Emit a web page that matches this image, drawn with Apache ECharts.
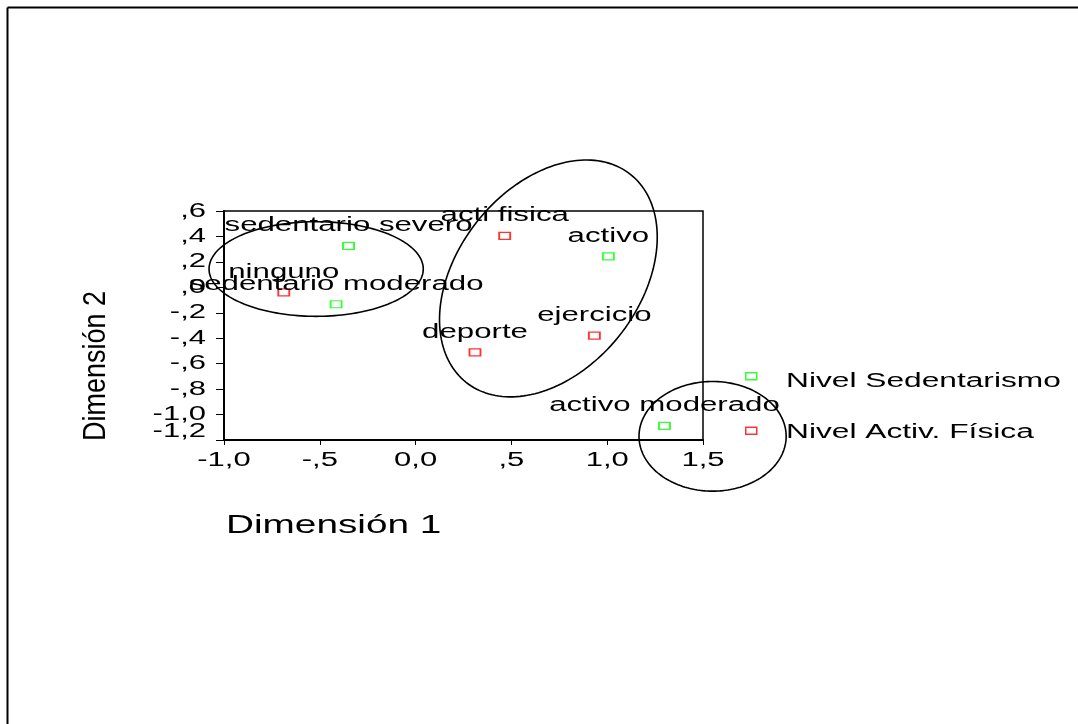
<!DOCTYPE html>
<html>
<head>
<meta charset="utf-8">
<script src="https://cdn.jsdelivr.net/npm/echarts@6/dist/echarts.min.js"></script>
<style>
html,body{margin:0;padding:0;background:#fff;}
#chart{width:1078px;height:724px;}
</style>
</head>
<body>
<div id="chart"></div>
<script>
// ---- data ----
const sedNames = ['sedentario severo', 'sedentario moderado', 'activo', 'activo moderado'];
const sedX = [-0.35, -0.415, 1.006, 1.299];
const sedY = [0.326, -0.133, 0.244, -1.089];

const actNames = ['ninguno', 'acti fisica', 'deporte', 'ejercicio'];
const actX = [-0.688, 0.465, 0.31, 0.933];
const actY = [-0.04, 0.405, -0.512, -0.38];

const seriesNames = ['Nivel Sedentarismo', 'Nivel Activ. Física'];

const xTickValues = [-1.0, -0.5, 0.0, 0.5, 1.0, 1.5];
const xTickLabels = ['-1,0', '-,5', '0,0', ',5', '1,0', '1,5'];
const yTickValues = [0.6, 0.4, 0.2, 0.0, -0.2, -0.4, -0.6, -0.8, -1.0, -1.2];
const yTickLabels = [',6', ',4', ',2', ',0', '-,2', '-,4', '-,6', '-,8', '-1,0', '-1,2'];

// ellipse annotations (data units): centre and two conjugate semi-diameters
const ellipseCx = [-0.519, 0.693, 1.55];
const ellipseCy = [0.144, 0.070, -1.171];
const ellipseUx = [0.559, 0.4295, 0.384];
const ellipseUy = [0.0, 0.8166, 0.0];
const ellipseVx = [0.0, 0.372, 0.0];
const ellipseVy = [0.372, -0.447, 0.431];

// ---- chart ----
const X_MIN = -1.0, X_MAX = 1.5, Y_MIN = -1.2, Y_MAX = 0.6;
const FONT = '"Liberation Sans", Arial, sans-serif';
const STRETCH = 1.56;

const chart = echarts.init(document.getElementById('chart'));

const sedData = sedX.map((x, i) => [x, sedY[i], sedNames[i]]);
const actData = actX.map((x, i) => [x, actY[i], actNames[i]]);
const allLabels = sedData.concat(actData);

function stretchedText(x, y, text, size, align, scale) {
  return {
    type: 'text', x: x, y: y, scaleX: scale, scaleY: 1,
    style: { text: text, fill: '#000', fontSize: size, fontFamily: FONT,
             align: align, verticalAlign: 'middle' }
  };
}

const option = {
  animation: false,
  backgroundColor: '#fff',
  grid: { left: 224, right: 375, top: 211, bottom: 284, show: true,
          borderColor: '#000', borderWidth: 1.5, backgroundColor: 'transparent' },
  xAxis: {
    type: 'value', min: X_MIN, max: X_MAX, interval: 0.5,
    axisLine: { show: true, onZero: false, lineStyle: { color: '#000', width: 2 } },
    axisTick: { show: true, inside: false, length: 5, lineStyle: { color: '#000', width: 1 } },
    axisLabel: { show: false },
    splitLine: { show: false }
  },
  yAxis: {
    type: 'value', min: Y_MIN, max: Y_MAX, interval: 0.2,
    axisLine: { show: true, onZero: false, lineStyle: { color: '#000', width: 2 } },
    axisTick: { show: true, inside: false, length: 8, lineStyle: { color: '#000', width: 1 } },
    axisLabel: { show: false },
    splitLine: { show: false }
  },
  legend: {
    orient: 'vertical', left: 740, top: 367, itemWidth: 11, itemHeight: 7, itemGap: 46,
    icon: 'rect', formatter: function () { return ''; },
    textStyle: { fontSize: 1 },
    selectedMode: false,
    data: [
      { name: seriesNames[0], itemStyle: { color: 'transparent', borderColor: '#00ff00', borderWidth: 1.5 } },
      { name: seriesNames[1], itemStyle: { color: 'transparent', borderColor: '#ff0000', borderWidth: 1.5 } }
    ]
  },
  graphic: [
    { type: 'line', shape: { x1: 7.5, y1: 7.5, x2: 1078, y2: 7.5 }, style: { stroke: '#000', lineWidth: 2 } },
    { type: 'line', shape: { x1: 7.5, y1: 7.5, x2: 7.5, y2: 724 }, style: { stroke: '#000', lineWidth: 2 } },
    { type: 'text', x: 786, y: 381, scaleX: 1.585,
      style: { text: seriesNames[0], fontSize: 20, fontFamily: FONT, fill: '#000', verticalAlign: 'middle' } },
    { type: 'text', x: 786, y: 432, scaleX: 1.585,
      style: { text: seriesNames[1], fontSize: 20, fontFamily: FONT, fill: '#000', verticalAlign: 'middle' } },
    { type: 'text', x: 226, y: 526, scaleX: 1.55,
      style: { text: 'Dimensión 1', fontSize: 25, fontFamily: FONT, fill: '#000', verticalAlign: 'middle' } },
    { type: 'text', x: 96, y: 366, rotation: Math.PI / 2, scaleY: 1.15,
      style: { text: 'Dimensión 2', fontSize: 27, fontFamily: FONT, fill: '#000', align: 'center', verticalAlign: 'middle' } }
  ],
  series: [
    {
      name: seriesNames[0], type: 'scatter', symbol: 'rect', symbolSize: [11, 7],
      itemStyle: { color: 'transparent', borderColor: '#00ff00', borderWidth: 1.5 },
      data: sedData, z: 5
    },
    {
      name: seriesNames[1], type: 'scatter', symbol: 'rect', symbolSize: [11, 7],
      itemStyle: { color: 'transparent', borderColor: '#ff0000', borderWidth: 1.5 },
      data: actData, z: 5
    },
    {
      name: 'ellipses', type: 'custom', clip: false, silent: true, z: 3,
      data: ellipseCx.map((c, i) => [c, ellipseCy[i], ellipseUx[i], ellipseUy[i], ellipseVx[i], ellipseVy[i]]),
      renderItem: function (params, api) {
        const cx = api.value(0), cy = api.value(1);
        const ux = api.value(2), uy = api.value(3), vx = api.value(4), vy = api.value(5);
        const pts = [];
        for (let k = 0; k <= 180; k++) {
          const t = k / 180 * Math.PI * 2;
          pts.push(api.coord([cx + ux * Math.cos(t) + vx * Math.sin(t),
                              cy + uy * Math.cos(t) + vy * Math.sin(t)]));
        }
        return { type: 'polyline', shape: { points: pts },
                 style: { fill: 'none', stroke: '#000', lineWidth: 1.6 } };
      }
    },
    {
      name: 'pointLabels', type: 'custom', clip: false, silent: true, z: 6,
      data: allLabels,
      renderItem: function (params, api) {
        const p = api.coord([api.value(0), api.value(1)]);
        return stretchedText(p[0], p[1] - 20, allLabels[params.dataIndex][2], 20, 'center', STRETCH);
      }
    },
    {
      name: 'xTicks', type: 'custom', clip: false, silent: true, z: 6,
      data: xTickValues.map(v => [v, Y_MIN]),
      renderItem: function (params, api) {
        const p = api.coord([api.value(0), api.value(1)]);
        return stretchedText(p[0], p[1] + 20, xTickLabels[params.dataIndex], 20, 'center', 1.55);
      }
    },
    {
      name: 'yTicks', type: 'custom', clip: false, silent: true, z: 6,
      data: yTickValues.map(v => [X_MIN, v]),
      renderItem: function (params, api) {
        const p = api.coord([api.value(0), api.value(1)]);
        const shift = (params.dataIndex === yTickValues.length - 1) ? -9 : 0;
        return stretchedText(p[0] - 18, p[1] + shift, yTickLabels[params.dataIndex], 20, 'right', 1.55);
      }
    }
  ]
};
chart.setOption(option);
</script>
</body>
</html>
